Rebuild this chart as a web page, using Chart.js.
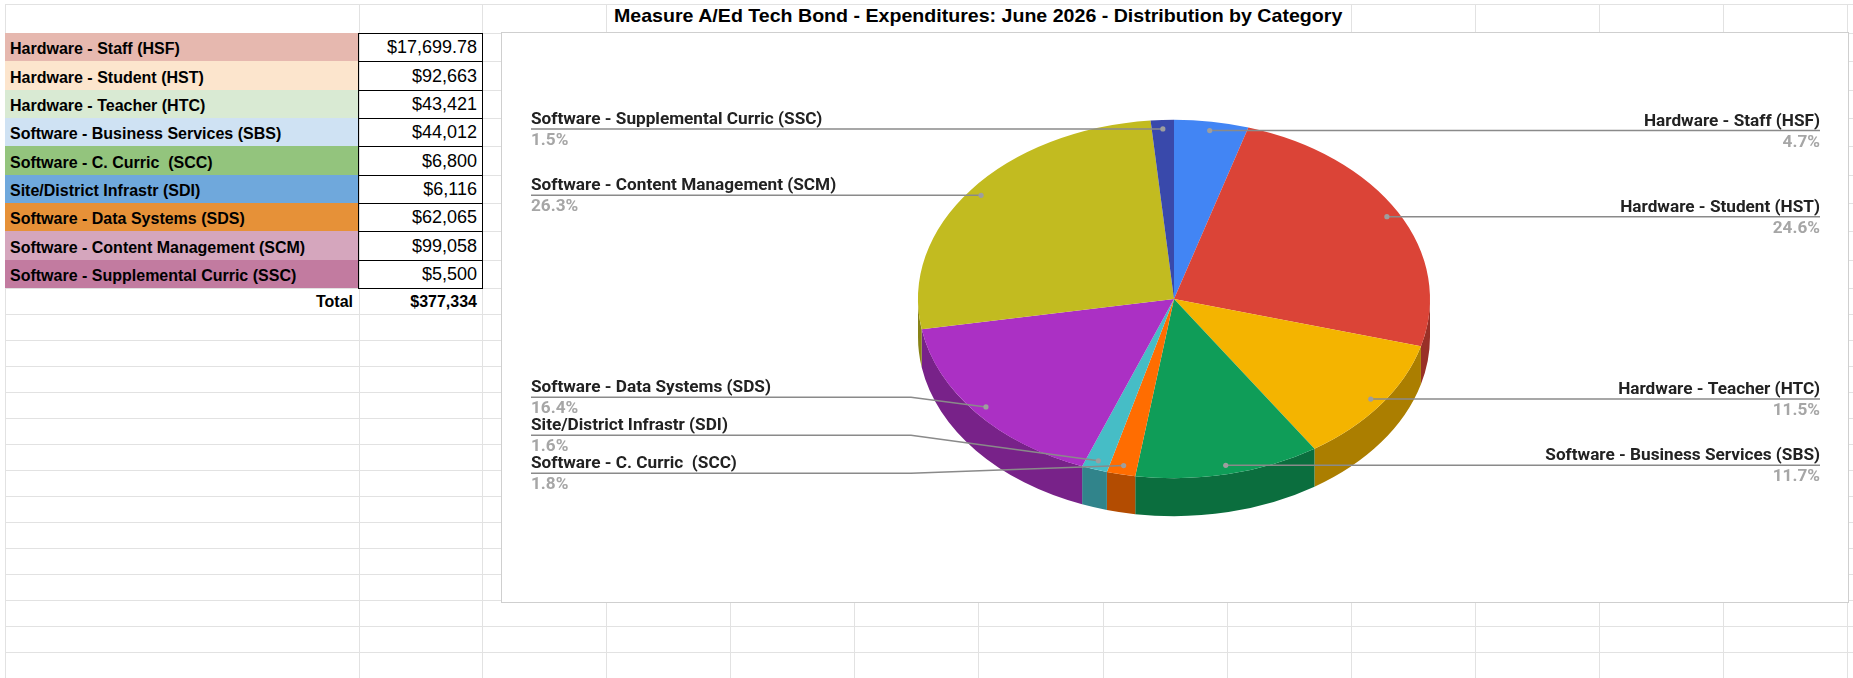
<!DOCTYPE html>
<html>
<head>
<meta charset="utf-8">
<title>Measure A/Ed Tech Bond - Expenditures</title>
<script src="https://cdn.jsdelivr.net/npm/chart.js@4.4.1/dist/chart.umd.min.js"></script>
<style>
  html, body { margin: 0; padding: 0; background: #fff; }
  body { width: 1853px; height: 678px; position: relative; overflow: hidden; font-family: 'Liberation Sans', Arial, sans-serif; }
  .gl { position: absolute; background: #e2e2e2; }
  .fill { position: absolute; }
  .box { position: absolute; box-sizing: border-box; border: 1px solid #000; }
  .txt { position: absolute; box-sizing: border-box; height: 22px; line-height: 22px; font-size: 16px; white-space: pre; color: #000; }
  #title { position: absolute; left: 606px; width: 745px; top: 5px; height: 28px; line-height: 28px; text-align: center;
           font: bold 19px 'Liberation Sans Narrow', 'Liberation Sans', Arial, sans-serif; white-space: pre; color: #000; }
  #title span { display: inline-block; transform-origin: center; }
  #chartBox { position: absolute; left: 501px; top: 32px; width: 1348px; height: 571px; box-sizing: border-box;
              border: 1px solid #cfcfcf; background: #fff; }
  #chartBox canvas { position: absolute; left: 0; top: 0; }
</style>
</head>
<body>
<div id="sheet"></div>
<div id="title"><span id="titleText"></span></div>
<div id="chartBox"><canvas id="pie" width="1346" height="569"></canvas></div>
<script>
// values
const chartTitle = 'Measure A/Ed Tech Bond - Expenditures: June 2026 - Distribution by Category';
const categories = [
  'Hardware - Staff (HSF)',
  'Hardware - Student (HST)',
  'Hardware - Teacher (HTC)',
  'Software - Business Services (SBS)',
  'Software - C. Curric  (SCC)',
  'Site/District Infrastr (SDI)',
  'Software - Data Systems (SDS)',
  'Software - Content Management (SCM)',
  'Software - Supplemental Curric (SSC)'
];
const amounts = [17699.78, 92663, 43421, 44012, 6800, 6116, 62065, 99058, 5500];
const totalLabel = 'Total';
const tableTotal = 377334;

// styling
const cellColors = ['#e6b8af', '#fce5cd', '#d9ead3', '#cfe2f3', '#93c47d', '#6fa8dc', '#e69138', '#d5a6bd', '#c27ba0'];
const pieColors = ['#4285f4', '#db4437', '#f4b400', '#0f9d58', '#ff6d01', '#46bdc6', '#ab30c4', '#c2bb20', '#3949ab'];
const tilt = 0.7;
const depth = 38;

const money = (v) => '$' + v.toLocaleString('en-US', {
  minimumFractionDigits: v % 1 ? 2 : 0,
  maximumFractionDigits: 2
});

//------- spreadsheet grid --------//

const colEdges = [5, 359, 482, 606, 730, 854, 978, 1103, 1227, 1351, 1475, 1599, 1723, 1847];
const rowEdges = [4, 33];
for (let i = 1; i <= 9; i++) rowEdges.push(Math.round(33 + i * 255 / 9));
for (let y = 314; y <= 678; y += 26) rowEdges.push(y);

const sheet = document.getElementById('sheet');
const add = (cls, css, text) => {
  const d = document.createElement('div');
  d.className = cls;
  Object.assign(d.style, css);
  if (text !== undefined) d.textContent = text;
  sheet.appendChild(d);
  return d;
};

rowEdges.forEach((y) => {
  add('gl', { left: '5px', top: y + 'px', width: '1848px', height: '1px' });
});
colEdges.forEach((x) => {
  const merged = x > 606 && x < 1351;
  add('gl', { left: x + 'px', top: (merged ? 33 : 4) + 'px', width: '1px', height: (merged ? 645 : 674) + 'px' });
});

categories.forEach((name, i) => {
  const top = rowEdges[i + 1];
  const bottom = rowEdges[i + 2];
  add('fill', { left: '5px', top: top + 'px', width: '354px', height: (bottom - top) + 'px', background: cellColors[i] });
  add('box', { left: '358px', top: top + 'px', width: '125px', height: (bottom - top + 1) + 'px' });
  add('txt', { left: '5px', width: '354px', top: (bottom - 23) + 'px', paddingLeft: '5px', fontWeight: 'bold' }, name);
  add('txt', { left: '359px', width: '123px', top: (bottom - 25) + 'px', paddingRight: '5px', textAlign: 'right', fontSize: '18px' }, money(amounts[i]));
});

const totalBottom = rowEdges[categories.length + 2];
add('txt', { left: '5px', width: '354px', top: (totalBottom - 23) + 'px', paddingRight: '6px', textAlign: 'right', fontWeight: 'bold' }, totalLabel);
add('txt', { left: '359px', width: '123px', top: (totalBottom - 23) + 'px', paddingRight: '5px', textAlign: 'right', fontWeight: 'bold' }, money(tableTotal));

// title sits in the merged cell above the chart, squeezed like the sheet's narrow font
const titleText = document.getElementById('titleText');
titleText.textContent = chartTitle;
const probe = document.createElement('canvas').getContext('2d');
probe.font = "bold 19px 'Liberation Sans Narrow', 'Liberation Sans', Arial, sans-serif";
titleText.style.transform = `scaleX(${729 / probe.measureText(chartTitle).width})`;

//------- 3D pie --------//

const shade = (hex, f) => {
  const n = parseInt(hex.slice(1), 16);
  return `rgb(${Math.round((n >> 16) * f)}, ${Math.round(((n >> 8) & 255) * f)}, ${Math.round((n & 255) * f)})`;
};

const drawLabels = (chart) => {
  const ctx = chart.ctx;
  const arcs = chart.getDatasetMeta(0).data;
  const { x: cx, y: cy, outerRadius: r } = arcs[0];
  const ry = r * tilt;
  const total = amounts.reduce((a, b) => a + b, 0);

  const items = arcs.map((arc, i) => {
    const mid = (arc.startAngle + arc.endAngle) / 2;
    return {
      i,
      right: Math.cos(mid) >= 0,
      dx: cx + 0.95 * r * Math.cos(mid),
      dy: cy + 0.95 * ry * Math.sin(mid)
    };
  });

  // keep label rows apart, and not below the front of the pie
  const gap = 38;
  const maxY = cy + ry - 5;
  [true, false].forEach((side) => {
    const group = items.filter((it) => it.right === side).sort((a, b) => a.dy - b.dy);
    group.forEach((it, k) => {
      it.ly = k ? Math.max(it.dy, group[k - 1].ly + gap) : it.dy;
    });
    for (let k = group.length - 1; k >= 0; k--) {
      const lim = k === group.length - 1 ? maxY : group[k + 1].ly - gap;
      if (group[k].ly > lim) group[k].ly = lim;
    }
  });

  items.forEach((it) => {
    const lx = it.right ? chart.width - 28 : 29;
    const elbow = it.right ? cx + r + 7 : cx - r - 7;

    ctx.strokeStyle = '#8a8a8a';
    ctx.lineWidth = 1.5;
    ctx.beginPath();
    ctx.moveTo(lx, it.ly);
    if (Math.abs(it.ly - it.dy) > 1) ctx.lineTo(elbow, it.ly);
    ctx.lineTo(it.dx, it.dy);
    ctx.stroke();

    ctx.fillStyle = '#9e9e9e';
    ctx.beginPath();
    ctx.arc(it.dx, it.dy, 2.6, 0, Math.PI * 2);
    ctx.fill();

    ctx.textAlign = it.right ? 'right' : 'left';
    ctx.textBaseline = 'alphabetic';
    ctx.font = 'bold 17.2px Roboto';
    ctx.fillStyle = '#222';
    ctx.fillText(categories[it.i], lx, it.ly - 5);
    ctx.fillStyle = '#a6a6a6';
    ctx.fillText((amounts[it.i] / total * 100).toFixed(1) + '%', lx, it.ly + 16);
  });
};

const pie3d = {
  id: 'pie3d',
  beforeDatasetsDraw(chart) {
    const ctx = chart.ctx;
    const arcs = chart.getDatasetMeta(0).data;
    const { x: cx, y: cy, outerRadius: r } = arcs[0];
    const ry = r * tilt;

    // side wall, only the front half shows
    arcs.forEach((arc, i) => {
      const a1 = Math.max(arc.startAngle, 0);
      const a2 = Math.min(arc.endAngle, Math.PI);
      if (a2 <= a1) return;
      ctx.beginPath();
      ctx.ellipse(cx, cy, r, ry, 0, a1, a2);
      ctx.ellipse(cx, cy + depth, r, ry, 0, a2, a1, true);
      ctx.closePath();
      ctx.fillStyle = shade(pieColors[i], 0.7);
      ctx.fill();
    });

    // squash the top face into an ellipse
    ctx.save();
    ctx.translate(0, cy);
    ctx.scale(1, tilt);
    ctx.translate(0, -cy);
  },
  afterDatasetsDraw(chart) {
    chart.ctx.restore();
    drawLabels(chart);
  }
};

new Chart(document.getElementById('pie'), {
  type: 'pie',
  data: {
    labels: categories,
    datasets: [{
      data: amounts,
      backgroundColor: pieColors,
      borderWidth: 0
    }]
  },
  options: {
    responsive: false,
    animation: false,
    layout: { padding: { left: 0, right: 2, top: 10, bottom: 47 } },
    plugins: {
      legend: { display: false },
      tooltip: { enabled: false }
    }
  },
  plugins: [pie3d]
});
</script>
</body>
</html>
